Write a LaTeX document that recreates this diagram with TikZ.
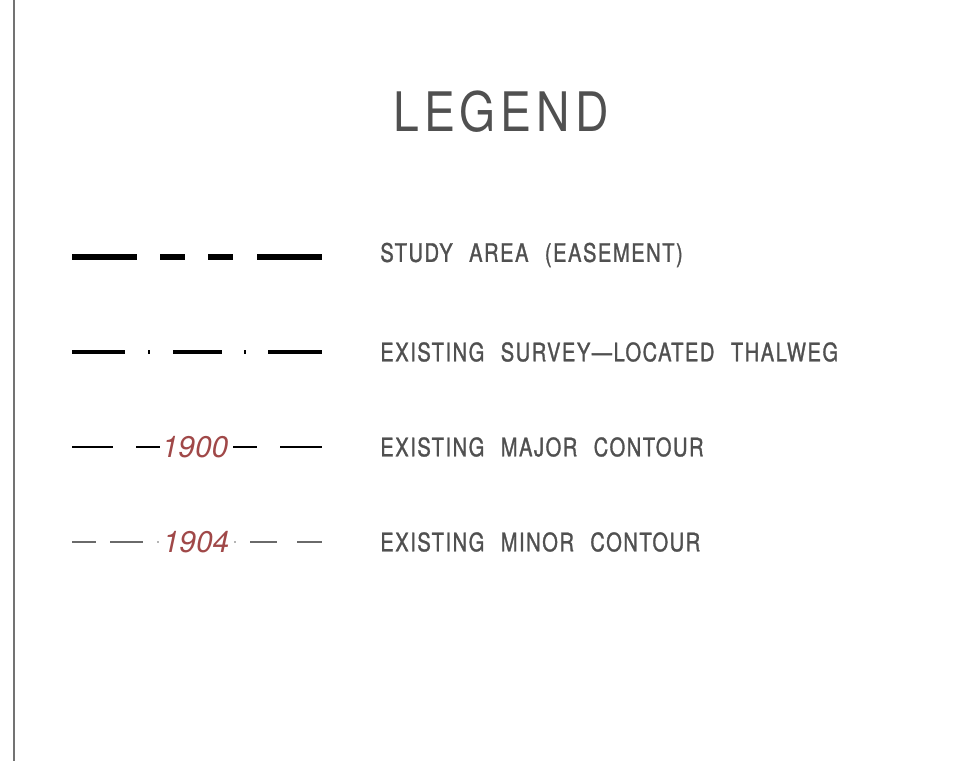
\documentclass[tikz,border=0pt]{standalone}
\usepackage{fontspec}
\newfontfamily\cadfont[LetterSpace=6,FakeStretch=0.79,WordSpace=2.3,FakeBold=1.2]{TeX Gyre Heros}
\newfontfamily\titlefont[LetterSpace=9,FakeStretch=0.85]{TeX Gyre Heros}
\newfontfamily\elevfont{TeX Gyre Heros}
\definecolor{textgray}{HTML}{505050}
\definecolor{elevred}{HTML}{A04848}
\definecolor{minorgray}{HTML}{6A6A6A}

\begin{document}
\begin{tikzpicture}[x=0.02cm, y=-0.02cm,
    label/.style={anchor=west, inner sep=0pt, text=textgray, font=\cadfont\fontsize{14.5}{16}\selectfont},
    elev/.style={inner sep=0pt, text=elevred, font=\elevfont\itshape\fontsize{17}{19}\selectfont}]
        \useasboundingbox (0, 0) rectangle (979, 761);
        \draw[textgray!80, line width=1.2pt] (14, 0) -- (14, 761);

        \node[inner sep=0pt, text=textgray, font=\titlefont\fontsize{31}{34}\selectfont] (title) at (501, 112) {LEGEND};

        % STUDY AREA
        \draw[black, line width=3.4pt] (72, 257) -- (137, 257);
        \draw[black, line width=3.4pt] (160, 257) -- (185, 257);
        \draw[black, line width=3.4pt] (208, 257) -- (233, 257);
        \draw[black, line width=3.4pt] (257, 257) -- (322, 257);
        \node[label] (study) at (380, 255) {STUDY AREA (EASEMENT)};

        % THALWEG
        \draw[black, line width=2.8pt] (72, 352) -- (125, 352);
        \draw[black, line width=0.6pt] (149, 350) -- (149, 354);
        \draw[black, line width=2.8pt] (173, 352) -- (222, 352);
        \draw[black, line width=0.6pt] (245, 350) -- (245, 354);
        \draw[black, line width=2.8pt] (268, 352) -- (322, 352);
        \node[label] (thalweg) at (380, 352) {EXISTING SURVEY—LOCATED THALWEG};

        % MAJOR CONTOUR
        \node[elev] (major) at (195, 447) {1900};
        \draw[black, line width=0.9pt] (72, 447) -- (113, 447);
        \draw[black, line width=0.9pt] (136, 447) -- (160, 447);
        \draw[black, line width=0.9pt] (233, 447) -- (257, 447);
        \draw[black, line width=0.9pt] (280, 447) -- (322, 447);
        \node[label] (majorlbl) at (380, 447) {EXISTING MAJOR CONTOUR};

        % MINOR CONTOUR
        \node[elev] (minor) at (196, 542) {1904};
        \draw[minorgray, line width=0.9pt] (72, 542) -- (96, 542);
        \draw[minorgray, line width=0.9pt] (110, 542) -- (143, 542);
        \fill[minorgray] (158, 542) circle (0.9);
        \fill[minorgray] (235, 542) circle (0.9);
        \draw[minorgray, line width=0.9pt] (250, 542) -- (277, 542);
        \draw[minorgray, line width=0.9pt] (297, 542) -- (322, 542);
        \node[label] (minorlbl) at (380, 542) {EXISTING MINOR CONTOUR};
    \end{tikzpicture}
\end{document}
